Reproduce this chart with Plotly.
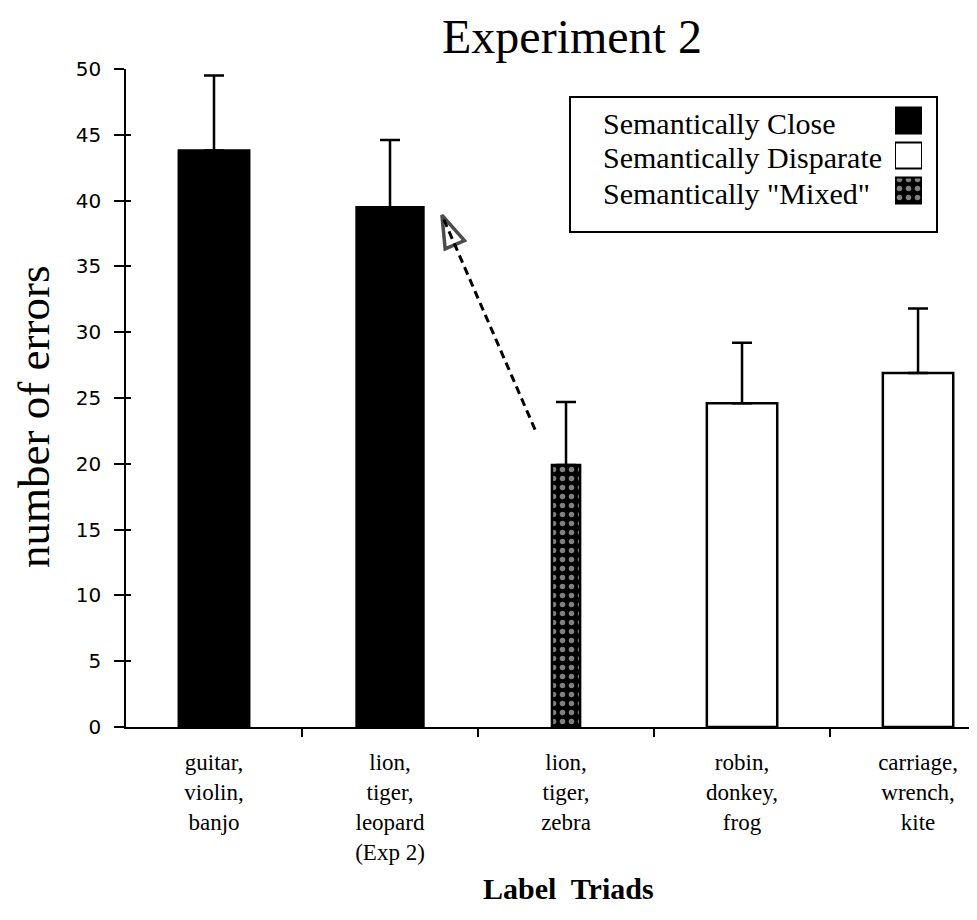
import plotly.graph_objects as go

# ---- data ----
triads = [
    ["guitar,", "violin,", "banjo"],
    ["lion,", "tiger,", "leopard", "(Exp 2)"],
    ["lion,", "tiger,", "zebra"],
    ["robin,", "donkey,", "frog"],
    ["carriage,", "wrench,", "kite"],
]
errors = [43.8, 39.5, 19.9, 24.6, 26.9]
error_sd = [5.7, 5.1, 4.8, 4.6, 4.9]
groups = ["Close", "Close", "Mixed", "Disparate", "Disparate"]
legend_labels = ["Semantically Close", "Semantically Disparate", 'Semantically "Mixed"']
legend_groups = ["Close", "Disparate", "Mixed"]
y_ticks = [0, 5, 10, 15, 20, 25, 30, 35, 40, 45, 50]
# dashed arrow annotation (tail -> tip), in data units
arrow_x = [1.824, 1.295]
arrow_y = [22.6, 38.9]

# ---- styles ----
style = {
    "Close": dict(color="black", shape=""),
    "Disparate": dict(color="white", shape=""),
    "Mixed": dict(color="black", shape="."),
}
bar_widths = [0.40, 0.38, 0.16, 0.40, 0.40]
SERIF = "Liberation Serif, Times New Roman, serif"
SANS = "DejaVu Sans, Arial, sans-serif"

xs = list(range(len(triads)))
labels = ["<br>".join(t) for t in triads]


def marker_for(g, lw):
    m = dict(color=style[g]["color"], line=dict(color="black", width=lw))
    if style[g]["shape"]:
        m["pattern"] = dict(shape=style[g]["shape"], fillmode="overlay",
                            bgcolor="black", fgcolor="white", size=9, solidity=0.3)
    return m


fig = go.Figure()
for g in ["Close", "Disparate", "Mixed"]:
    idx = [i for i, gg in enumerate(groups) if gg == g]
    fig.add_trace(go.Bar(
        x=[xs[i] for i in idx], y=[errors[i] for i in idx],
        width=[bar_widths[i] for i in idx],
        marker=marker_for(g, 2.5),
        error_y=dict(type="data", array=[error_sd[i] for i in idx],
                     arrayminus=[0] * len(idx), symmetric=False,
                     color="black", thickness=2.5, width=10),
        showlegend=False, hoverinfo="skip", name=g,
    ))

# dashed arrow
fig.add_trace(go.Scatter(
    x=arrow_x, y=arrow_y, mode="lines+markers",
    line=dict(color="black", width=3, dash="8px,5px"),
    marker=dict(symbol=["circle", "arrow-open"], size=[0, 34], angleref="previous",
                color="black", line=dict(color="black", width=3.5)),
    showlegend=False, hoverinfo="skip",
))

# inner half of the y tick marks (ticks cross the axis)
fig.add_trace(go.Scatter(x=[], y=[], yaxis="y3", showlegend=False, hoverinfo="skip"))

# legend swatches (mini axis)
for j, g in enumerate(legend_groups):
    fig.add_trace(go.Bar(
        x=[1], y=[j], orientation="h", width=0.74,
        xaxis="x2", yaxis="y2",
        marker=marker_for(g, 2),
        showlegend=False, hoverinfo="skip",
    ))

OFF = 8  # page body margin
W, H = 977 - OFF, 920 - OFF
L, T = 126 - OFF, 69 - OFF
B = H - (727 - OFF)
R = 0
pw, ph = W - L - R, H - T - B


def px_x(p):
    return (p - OFF - L) / pw


def px_y(p):
    return (H - B - (p - OFF)) / ph


fig.update_layout(
    width=W, height=H,
    margin=dict(l=L, r=R, t=T, b=B),
    paper_bgcolor="white", plot_bgcolor="white",
    barmode="overlay",
    title=dict(text="Experiment 2", x=(572 - OFF) / W, xref="container", xanchor="center",
               y=1 - (36 - OFF) / H, yref="container", yanchor="middle",
               font=dict(family=SERIF, size=48, color="black")),
    xaxis=dict(
        range=[-0.5, 4.335], tickvals=xs, ticktext=labels, ticks="",
        showline=True, linecolor="black", linewidth=1.5,
        showgrid=False, zeroline=False,
        tickfont=dict(family=SERIF, size=23, color="black"),
        ticklabelstandoff=14,
        minor=dict(tickvals=[0.5, 1.5, 2.5, 3.5], ticks="outside", ticklen=8,
                   tickwidth=1.5, tickcolor="black", showgrid=False),
    ),
    yaxis=dict(
        range=[0, 50], tickvals=y_ticks, ticks="outside", ticklen=10, tickwidth=1.5,
        tickcolor="black", showline=True, linecolor="black", linewidth=1.5,
        showgrid=False, zeroline=False,
        tickfont=dict(family=SANS, size=20, color="black"),
        ticklabelstandoff=9,
    ),
    yaxis3=dict(
        range=[0, 50], tickvals=y_ticks, ticks="inside", ticklen=5, tickwidth=1.5,
        tickcolor="black", showline=False, showgrid=False, zeroline=False,
        showticklabels=False, overlaying="y", anchor="x", side="left",
    ),
    xaxis2=dict(domain=[px_x(895), px_x(922)], range=[0, 1], anchor="y2",
                visible=False, fixedrange=True),
    yaxis2=dict(domain=[px_y(208), px_y(103)], range=[2.5, -0.5], anchor="x2",
                visible=False, fixedrange=True),
    shapes=[dict(type="rect", xref="paper", yref="paper",
                 x0=px_x(570), x1=px_x(937), y0=px_y(232), y1=px_y(97),
                 line=dict(color="black", width=2), fillcolor="rgba(0,0,0,0)",
                 layer="below")],
)

annotations = [
    dict(text="number of errors", xref="paper", yref="paper", x=px_x(34), y=px_y(417),
         textangle=-90, showarrow=False, xanchor="center", yanchor="middle",
         font=dict(family=SERIF, size=45, color="black")),
    dict(text="<b>Label  Triads</b>", xref="paper", yref="paper", x=px_x(568), y=px_y(888),
         showarrow=False, xanchor="center", yanchor="middle",
         font=dict(family=SERIF, size=30, color="black")),
]
for i, lab in enumerate(legend_labels):
    annotations.append(dict(
        text=lab, xref="paper", yref="paper", x=px_x(601), y=px_y(123 + 35 * i),
        showarrow=False, xanchor="left", yanchor="middle",
        font=dict(family=SERIF, size=30, color="black")))
fig.update_layout(annotations=annotations)

fig.write_html("out.html")
